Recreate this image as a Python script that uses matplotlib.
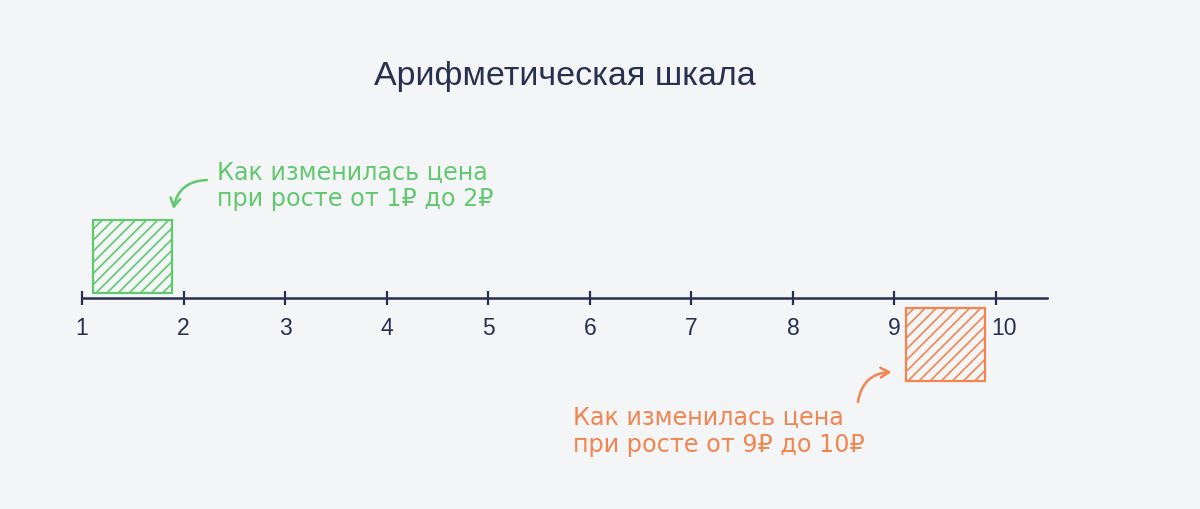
import matplotlib.pyplot as plt
import matplotlib.transforms as mtransforms
from matplotlib.patches import Rectangle

# scale values and the two highlighted steps
ticks = [1, 2, 3, 4, 5, 6, 7, 8, 9, 10]
tick_labels = [str(t) for t in ticks]
title = "Арифметическая шкала"
steps = [(1, 2), (9, 10)]
notes = [
    ["Как изменилась цена", "при росте от 1₽ до 2₽"],
    ["Как изменилась цена", "при росте от 9₽ до 10₽"],
]

navy = "#283050"
colors = ["#62c870", "#f2854f"]
bg = "#f4f5f7"
fonts = ["Liberation Sans", "DejaVu Sans"]
note_fonts = ["DejaVu Sans"]

plt.rcParams["font.family"] = fonts
plt.rcParams["hatch.linewidth"] = 1.2

fig = plt.figure(figsize=(12, 5.1), dpi=100, facecolor=bg)
ax = fig.add_axes([0, 0, 1, 1])
ax.set_facecolor(bg)

unit = 101.56  # pixels per scale unit
ax.set_xlim(1 - 82 / unit, 1 + (1200 - 82) / unit)
ax.set_ylim(-211, 299)

for side in ["top", "right", "left"]:
    ax.spines[side].set_visible(False)
ax.spines["bottom"].set_position(("data", 0))
ax.spines["bottom"].set_bounds(ticks[0], ticks[-1] + 0.5)
ax.spines["bottom"].set_linewidth(1.8)
ax.spines["bottom"].set_color(navy)
ax.set_xticks(ticks, tick_labels)
ax.set_yticks([])
ax.tick_params(axis="x", direction="inout", length=10, width=1.6,
               colors=navy, labelsize=16.5, pad=8)

# the last label sits a little right so it clears the orange box
last = ax.get_xticklabels()[-1]
last.set_transform(last.get_transform() +
                   mtransforms.ScaledTranslation(6 / 72, 0, fig.dpi_scale_trans))

ax.text((ticks[0] + ticks[-1] + 0.5) / 2, 214, title, ha="center",
        va="baseline", fontsize=24.5, color=navy)

arrow = "->,head_length=0.6,head_width=0.35"

# green: box above the axis, note to the right
lo, hi = steps[0]
ax.add_patch(Rectangle((lo + 0.11, 5), (hi - lo) - 0.22, 73, fill=False,
                       hatch="///", edgecolor=colors[0], lw=1.6))
ax.text(hi + 0.33, 119, notes[0][0], color=colors[0], fontsize=17.2,
        va="baseline", family=note_fonts)
ax.text(hi + 0.33, 93, notes[0][1], color=colors[0], fontsize=17.2,
        va="baseline", family=note_fonts)
ax.annotate("", xy=(hi - 0.1, 89), xytext=(hi + 0.23, 118),
            arrowprops=dict(arrowstyle=arrow, color=colors[0], lw=1.8,
                            shrinkA=0, shrinkB=0,
                            connectionstyle="arc3,rad=0.4"))

# orange: box below the axis, note to the lower left
lo, hi = steps[1]
ax.add_patch(Rectangle((lo + 0.11, -83), (hi - lo) - 0.22, 73, fill=False,
                       hatch="///", edgecolor=colors[1], lw=1.6))
ax.text(lo - 3.165, -126, notes[1][0], color=colors[1], fontsize=17.2,
        va="baseline", family=note_fonts)
ax.text(lo - 3.165, -153, notes[1][1], color=colors[1], fontsize=17.2,
        va="baseline", family=note_fonts)
ax.annotate("", xy=(lo - 0.03, -74), xytext=(lo - 0.36, -104),
            arrowprops=dict(arrowstyle=arrow, color=colors[1], lw=1.8,
                            shrinkA=0, shrinkB=0,
                            connectionstyle="arc3,rad=-0.4"))

fig.savefig("out.png", dpi=100, facecolor=bg)
